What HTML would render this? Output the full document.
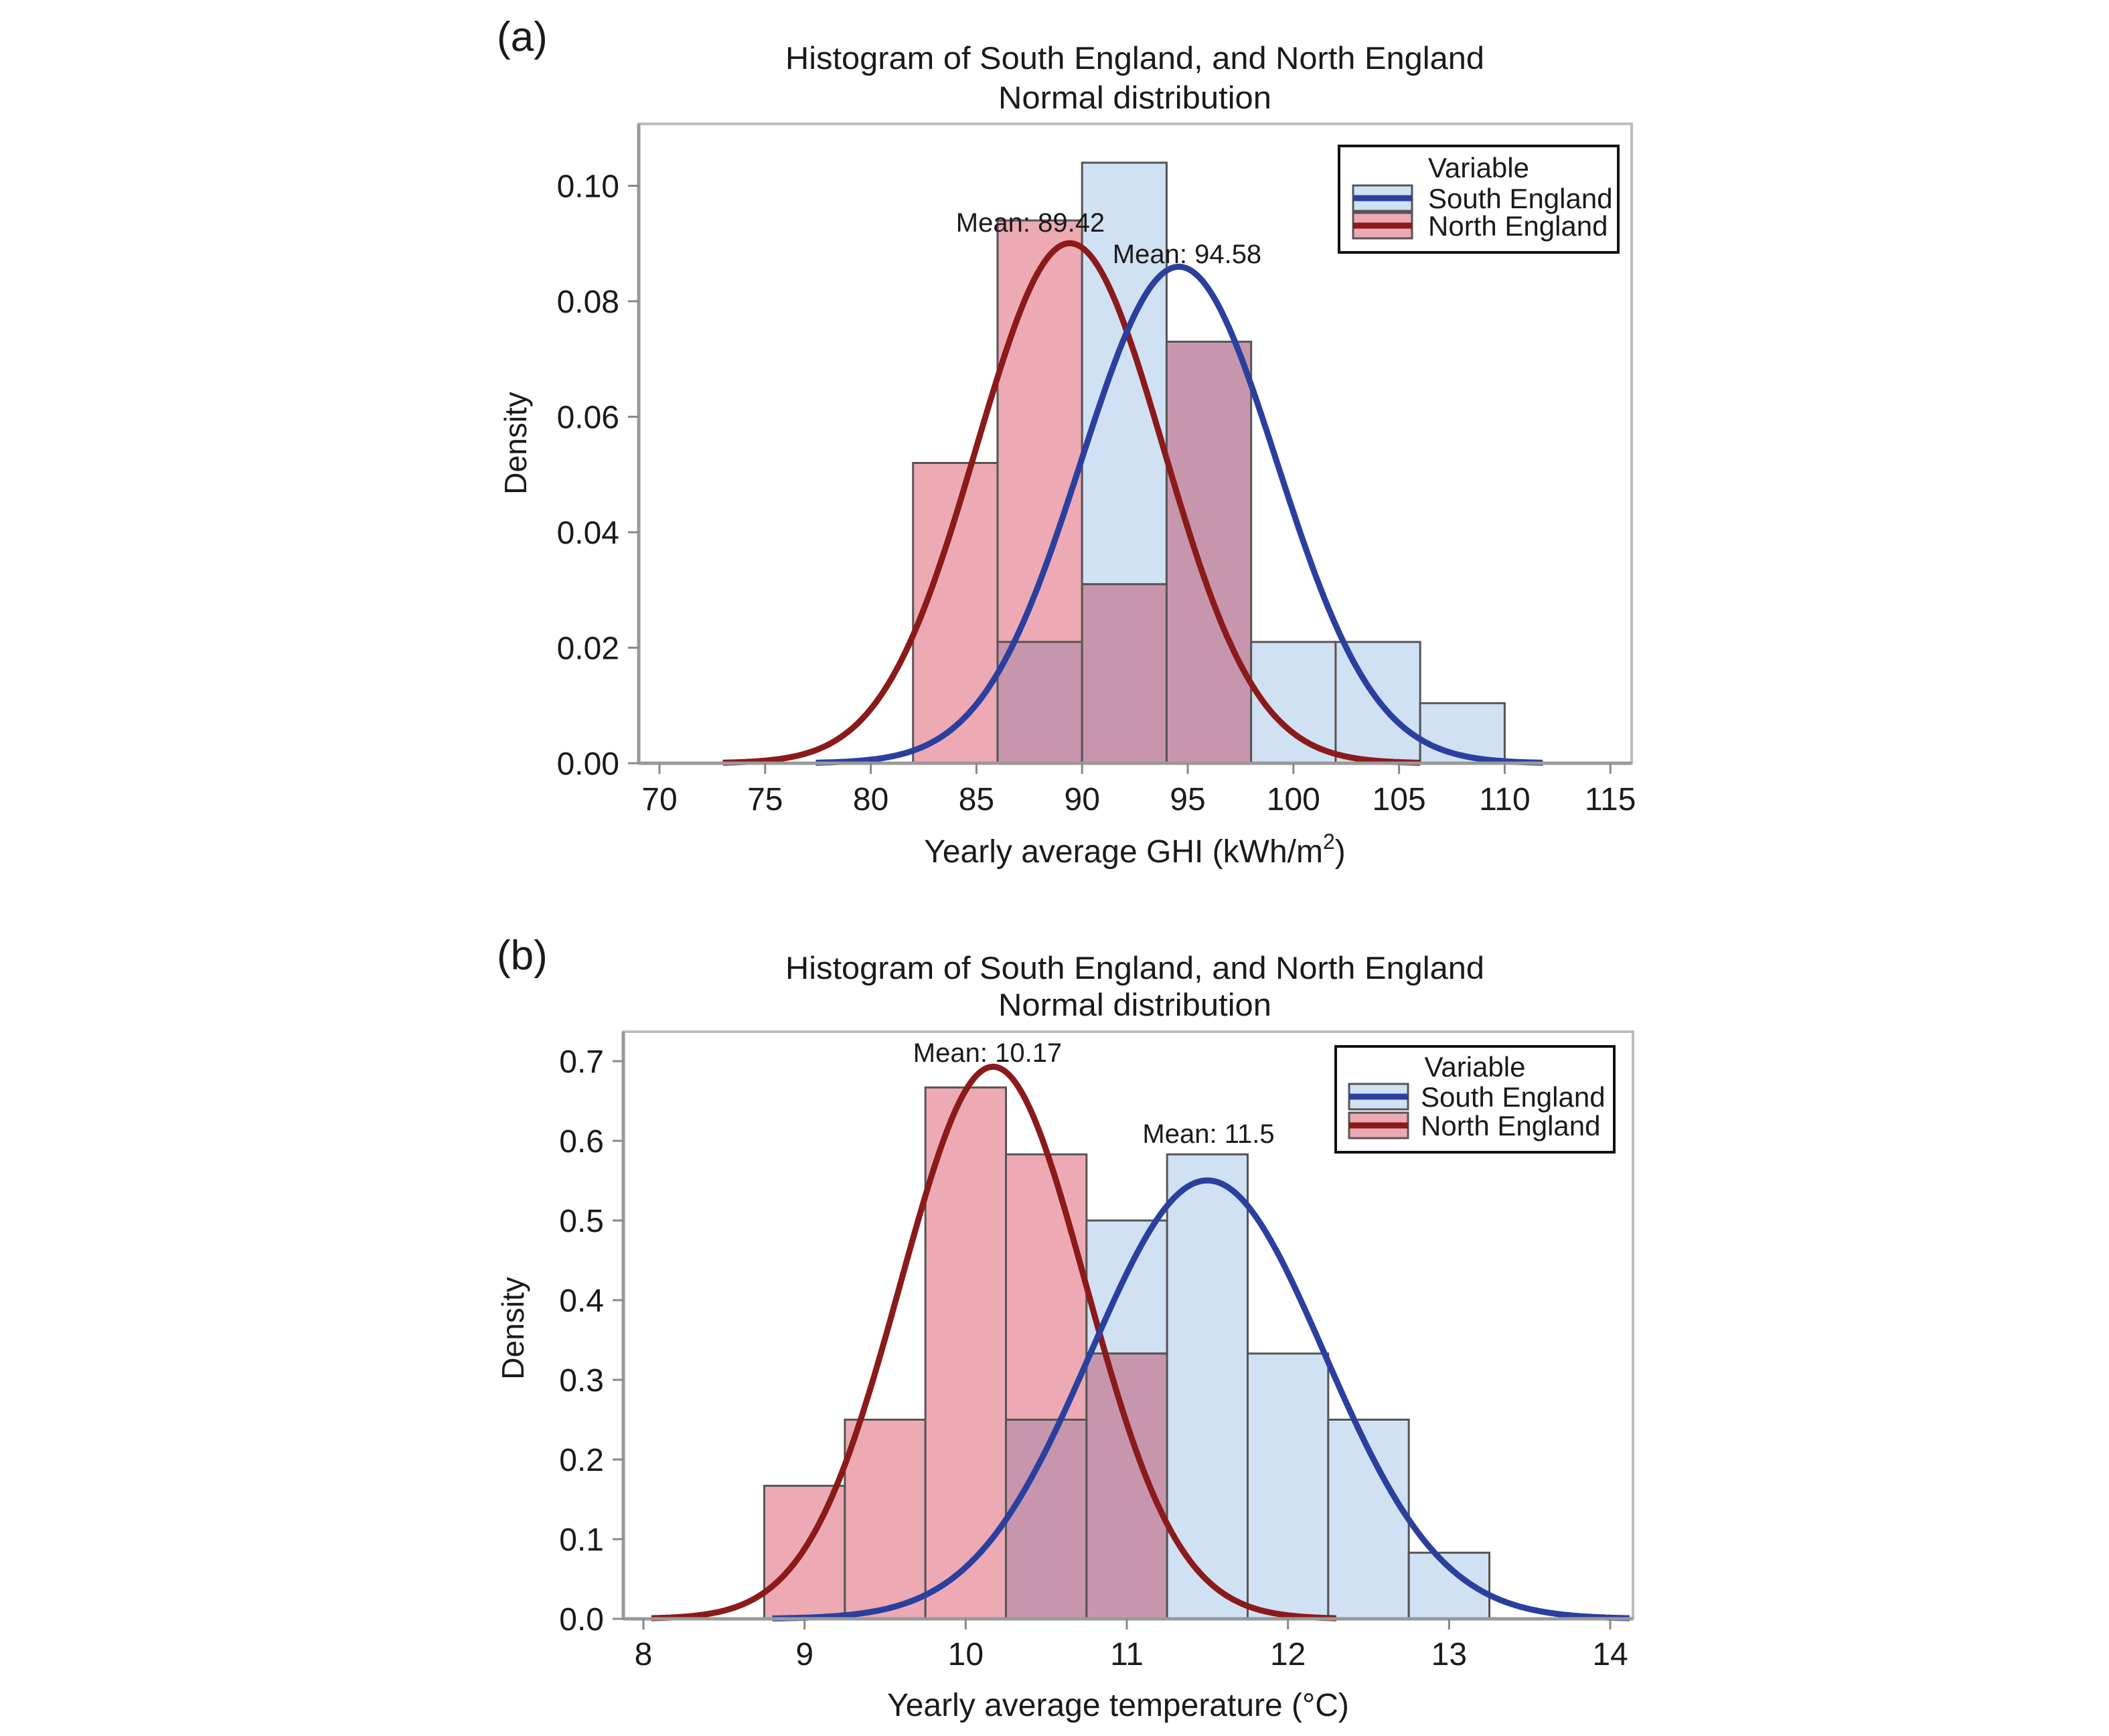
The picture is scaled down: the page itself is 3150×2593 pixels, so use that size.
<!DOCTYPE html>
<html><head><meta charset="utf-8"><style>
html,body{margin:0;padding:0;background:#fff}
svg{display:block}
text{font-family:"Liberation Sans",Arial,sans-serif;fill:#1a1a1a}
</style></head><body>
<svg id="s" width="3150" height="2593" viewBox="0 0 3150 2593" xmlns="http://www.w3.org/2000/svg">
<g id="g"></g>
</svg>
<script>
var NS="http://www.w3.org/2000/svg",G=document.getElementById('g');
function el(t,a,txt){var e=document.createElementNS(NS,t);for(var k in a)e.setAttribute(k,a[k]);if(txt!==undefined)e.textContent=txt;G.appendChild(e);return e;}
var PINK="#EDAAB4",BLUE="#D0E1F4",PURP="#C796AD";
function panel(P){
  var X=P.X,Y=P.Y;
  el('rect',{x:P.fl,y:P.ft,width:P.fr-P.fl,height:P.fb-P.ft,fill:'#fff',stroke:'#bdbdbd','stroke-width':4});
  P.bars.forEach(function(b){
    var x0=X(b[0]),x1=X(b[1]);
    var n=b[2],s=b[3],lo=Math.min(n,s),hi=Math.max(n,s);
    if(hi>lo){el('rect',{x:x0,y:Y(hi),width:x1-x0,height:Y(lo)-Y(hi),fill:(n>s?PINK:BLUE),stroke:'#555','stroke-width':3});}
    if(lo>0){el('rect',{x:x0,y:Y(lo),width:x1-x0,height:Y(0)-Y(lo),fill:(n>0&&s>0?PURP:(n>0?PINK:BLUE)),stroke:'#555','stroke-width':3});}
  });
  P.curves.forEach(function(c){
    var d='',first=true;
    for(var i=0;i<=400;i++){var v=c.a+(c.b-c.a)*i/400;var yv=Math.exp(-0.5*Math.pow((v-c.m)/c.s,2))/(c.s*Math.sqrt(2*Math.PI));
      d+=(first?'M':'L')+X(v).toFixed(1)+','+Y(yv).toFixed(1);first=false;}
    el('path',{d:d,fill:'none',stroke:c.col,'stroke-width':9,'stroke-linejoin':'round'});
  });
  el('line',{x1:P.fl,y1:P.fb,x2:P.fr,y2:P.fb,stroke:'#999','stroke-width':5});
  el('line',{x1:P.fl,y1:P.ft,x2:P.fl,y2:P.fb,stroke:'#999','stroke-width':5});
  P.yt.forEach(function(t){var y=Y(t[0]);el('line',{x1:P.fl-16,y1:y,x2:P.fl,y2:y,stroke:'#888','stroke-width':3});
    el('text',{x:P.ylx,y:y+17,'text-anchor':'end','font-size':48},t[1]);});
  P.xt.forEach(function(t){var x=X(t[0]);el('line',{x1:x,y1:P.fb,x2:x,y2:P.fb+16,stroke:'#888','stroke-width':3});
    el('text',{x:x,y:P.xly,'text-anchor':'middle','font-size':48},t[1]);});
  el('text',{x:1695,y:P.t1,'text-anchor':'middle','font-size':47,textLength:1044,lengthAdjust:'spacingAndGlyphs'},'Histogram of South England, and North England');
  el('text',{x:1695,y:P.t2,'text-anchor':'middle','font-size':47,textLength:408,lengthAdjust:'spacingAndGlyphs'},'Normal distribution');
  el('text',{x:P.lbx,y:P.lby,'font-size':62},P.lab);
  el('text',{x:0,y:0,'text-anchor':'middle','font-size':46,transform:'translate('+P.ylabx+','+P.ylaby+') rotate(-90)'},'Density');
  var L=P.leg;
  el('rect',{x:L.x0,y:L.y0,width:L.x1-L.x0,height:L.y1-L.y0,fill:'#fff',stroke:'#111','stroke-width':4});
  el('text',{x:(L.x0+L.x1)/2,y:L.vy+15,'text-anchor':'middle','font-size':42},'Variable');
  [[L.e1,BLUE,'#2B3F9E','South England'],[L.e2,PINK,'#8B1A1A','North England']].forEach(function(e){
    el('rect',{x:L.sx,y:e[0]-19,width:88,height:38,fill:e[1],stroke:'#555','stroke-width':3});
    el('line',{x1:L.sx,y1:e[0],x2:L.sx+88,y2:e[0],stroke:e[2],'stroke-width':9});
    el('text',{x:L.tx,y:e[0]+15,'font-size':42},e[3]);
  });
  P.means.forEach(function(m){el('text',{x:m[0],y:m[1]+14,'text-anchor':'middle','font-size':40},m[2]);});
}
panel({fl:954,fr:2437,ft:185,fb:1140,
  X:function(v){return 985+(v-70)*31.56;},Y:function(v){return 1140-v*8625;},
  bars:[[82,86,0.052,0],[86,90,0.094,0.021],[90,94,0.031,0.104],[94,98,0.073,0.073],[98,102,0,0.021],[102,106,0,0.021],[106,110,0,0.0104]],
  curves:[{m:89.42,s:4.43,a:73,b:106,col:'#8B1A1A'},{m:94.58,s:4.64,a:77.4,b:111.8,col:'#2B3F9E'}],
  yt:[[0,'0.00'],[0.02,'0.02'],[0.04,'0.04'],[0.06,'0.06'],[0.08,'0.08'],[0.10,'0.10']],
  xt:[[70,'70'],[75,'75'],[80,'80'],[85,'85'],[90,'90'],[95,'95'],[100,'100'],[105,'105'],[110,'110'],[115,'115']],
  ylx:925,xly:1210,t1:103,t2:162,lab:'(a)',lbx:742,lby:76,ylabx:786,ylaby:662,
  leg:{x0:2000,x1:2417,y0:218,y1:377,vy:250,e1:296,e2:337,sx:2021,tx:2133},
  means:[[1539,332,'Mean: 89.42'],[1773,379,'Mean: 94.58']]
});
(function(){var t=el('text',{x:1695,y:1288,'text-anchor':'middle','font-size':48});
 var a=document.createElementNS(NS,'tspan');a.textContent='Yearly average GHI (kWh/m';t.appendChild(a);
 var b=document.createElementNS(NS,'tspan');b.setAttribute('dy','-20');b.setAttribute('font-size','32');b.textContent='2';t.appendChild(b);
 var c=document.createElementNS(NS,'tspan');c.setAttribute('dy','20');c.textContent=')';t.appendChild(c);})();
panel({fl:931,fr:2439,ft:1541,fb:2418,
  X:function(v){return 961+(v-8)*240.67;},Y:function(v){return 2418-v*1190;},
  bars:[[8.75,9.25,0.167,0],[9.25,9.75,0.25,0],[9.75,10.25,0.667,0],[10.25,10.75,0.583,0.25],[10.75,11.25,0.333,0.5],[11.25,11.75,0,0.583],[11.75,12.25,0,0.333],[12.25,12.75,0,0.25],[12.75,13.25,0,0.083]],
  curves:[{m:10.17,s:0.5757,a:8.05,b:12.3,col:'#8B1A1A'},{m:11.5,s:0.725,a:8.8,b:14.12,col:'#2B3F9E'}],
  yt:[[0,'0.0'],[0.1,'0.1'],[0.2,'0.2'],[0.3,'0.3'],[0.4,'0.4'],[0.5,'0.5'],[0.6,'0.6'],[0.7,'0.7']],
  xt:[[8,'8'],[9,'9'],[10,'10'],[11,'11'],[12,'12'],[13,'13'],[14,'14']],
  ylx:902,xly:2487,t1:1462,t2:1517,lab:'(b)',lbx:742,lby:1448,ylabx:782,ylaby:1984,
  leg:{x0:1995,x1:2411,y0:1563,y1:1721,vy:1593,e1:1638,e2:1681,sx:2015,tx:2122},
  means:[[1475,1572,'Mean: 10.17'],[1805,1693,'Mean: 11.5']]
});
el('text',{x:1670,y:2563,'text-anchor':'middle','font-size':48},'Yearly average temperature (°C)');
</script>
</body></html>
